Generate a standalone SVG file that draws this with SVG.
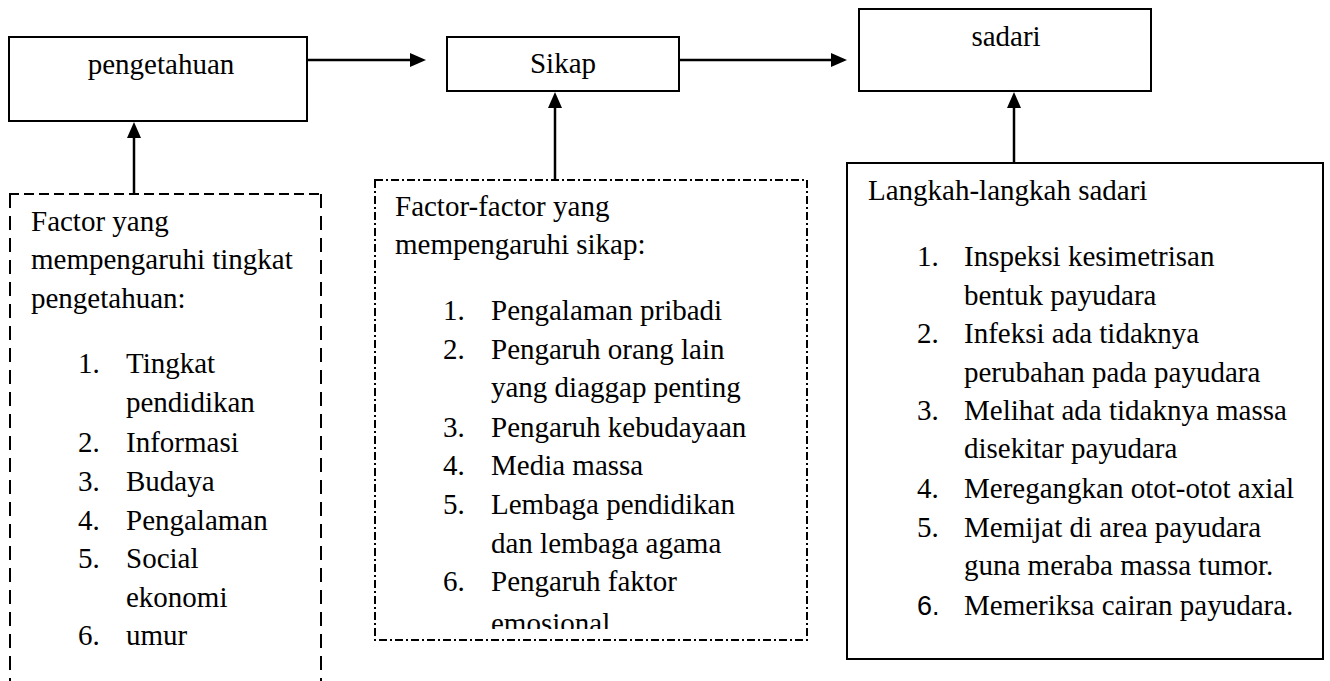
<svg xmlns="http://www.w3.org/2000/svg" width="1330" height="681" viewBox="0 0 1330 681" font-family="Times New Roman, Liberation Serif, serif" font-size="29">
<rect width="1330" height="681" fill="#fff"/>

<g id="connectors" stroke="#000" fill="#000">
<line x1="307" y1="60" x2="412" y2="60" stroke-width="2.5"/>
<polygon points="410,53 426,60 410,67" stroke="none"/>
<line x1="679" y1="60" x2="833" y2="60" stroke-width="2.5"/>
<polygon points="831,53 847,60 831,67" stroke="none"/>
<line x1="134" y1="194" x2="134" y2="136" stroke-width="2.5"/>
<polygon points="127,138 134,122 141,138" stroke="none"/>
<line x1="555" y1="180" x2="555" y2="106" stroke-width="2.5"/>
<polygon points="548,108 555,92 562,108" stroke="none"/>
<line x1="1014" y1="163" x2="1014" y2="106" stroke-width="2.5"/>
<polygon points="1007,108 1014,92 1021,108" stroke="none"/>
</g>

<g id="pengetahuan">
<rect x="9" y="37" width="298" height="84" fill="#fff" stroke="#000" stroke-width="2"/>
<text x="161" y="74" text-anchor="middle">pengetahuan</text>
</g>

<g id="sikap">
<rect x="447" y="37" width="232" height="54" fill="#fff" stroke="#000" stroke-width="2"/>
<text x="563" y="73" text-anchor="middle">Sikap</text>
</g>

<g id="sadari">
<rect x="859" y="9" width="292" height="82" fill="#fff" stroke="#000" stroke-width="2"/>
<text x="1006" y="46" text-anchor="middle">sadari</text>
</g>

<g id="faktor-pengetahuan">
<line x1="9" y1="194" x2="322" y2="194" stroke="#000" stroke-width="2" stroke-dasharray="10 5"/>
<line x1="10" y1="194" x2="10" y2="681" stroke="#000" stroke-width="2" stroke-dasharray="14 8"/>
<line x1="321" y1="194" x2="321" y2="681" stroke="#000" stroke-width="2" stroke-dasharray="14 8"/>
<text x="31" y="231">Factor yang</text>
<text x="31" y="269">mempengaruhi tingkat</text>
<text x="31" y="308">pengetahuan:</text>
<text x="78" y="373">1.</text><text x="126" y="373">Tingkat</text>
<text x="126" y="412">pendidikan</text>
<text x="78" y="452">2.</text><text x="126" y="452">Informasi</text>
<text x="78" y="491">3.</text><text x="126" y="491">Budaya</text>
<text x="78" y="530">4.</text><text x="126" y="530">Pengalaman</text>
<text x="78" y="568">5.</text><text x="126" y="568">Social</text>
<text x="126" y="607">ekonomi</text>
<text x="78" y="645">6.</text><text x="126" y="645">umur</text>
</g>

<g id="faktor-sikap">
<text x="395" y="216">Factor-factor yang</text>
<text x="395" y="254">mempengaruhi sikap:</text>
<text x="443" y="320">1.</text><text x="491" y="320">Pengalaman pribadi</text>
<text x="443" y="359">2.</text><text x="491" y="359">Pengaruh orang lain</text>
<text x="491" y="397">yang diaggap penting</text>
<text x="443" y="437">3.</text><text x="491" y="437">Pengaruh kebudayaan</text>
<text x="443" y="475">4.</text><text x="491" y="475">Media massa</text>
<text x="443" y="514">5.</text><text x="491" y="514">Lembaga pendidikan</text>
<text x="491" y="553">dan lembaga agama</text>
<text x="443" y="591">6.</text><text x="491" y="591">Pengaruh faktor</text>
<text x="491" y="633">emosional</text>
<rect x="480" y="629" width="200" height="12" fill="#fff"/>
<rect x="375" y="180" width="432" height="460" fill="none" stroke="#000" stroke-width="2" stroke-dasharray="8 3 2 3"/>
</g>

<g id="langkah-sadari">
<rect x="847" y="163" width="476" height="496" fill="#fff" stroke="#000" stroke-width="2"/>
<text x="868" y="200">Langkah-langkah sadari</text>
<text x="917" y="266">1.</text><text x="964" y="266">Inspeksi kesimetrisan</text>
<text x="964" y="305">bentuk payudara</text>
<text x="917" y="343">2.</text><text x="964" y="343">Infeksi ada tidaknya</text>
<text x="964" y="382">perubahan pada payudara</text>
<text x="917" y="420">3.</text><text x="964" y="420">Melihat ada tidaknya massa</text>
<text x="964" y="458">disekitar payudara</text>
<text x="917" y="498">4.</text><text x="964" y="498">Meregangkan otot-otot axial</text>
<text x="917" y="537">5.</text><text x="964" y="537">Memijat di area payudara</text>
<text x="964" y="575">guna meraba massa tumor.</text>
<text font-family="Liberation Sans, Arial, sans-serif" font-size="27" x="917" y="615">6.</text><text x="964" y="615">Memeriksa cairan payudara.</text>
</g>
</svg>
